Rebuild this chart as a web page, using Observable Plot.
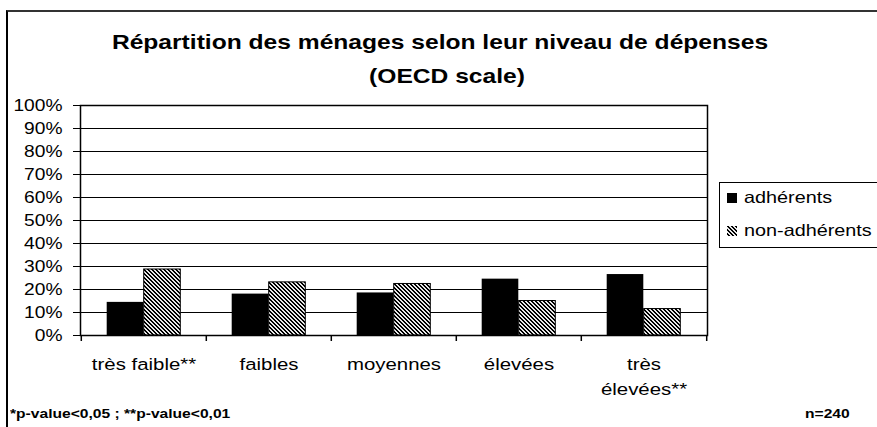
<!DOCTYPE html>
<html>
<head>
<meta charset="utf-8">
<script src="https://cdn.jsdelivr.net/npm/d3@7"></script>
<script src="https://cdn.jsdelivr.net/npm/@observablehq/plot@0.6"></script>
<style>
  html, body { margin: 0; padding: 0; background: #fff; }
  body { width: 877px; height: 427px; overflow: hidden; position: relative; font-family: "Liberation Sans", Arial, sans-serif; color: #000; }
  .abs { position: absolute; white-space: nowrap; }
  .frameLines { position: absolute; left: 6px; top: 10px; width: 900px; height: 440px; border-top: 2px solid #333; border-left: 2px solid #000; }
  .title { font-weight: bold; font-size: 20.5px; transform: scaleX(1.2); transform-origin: center; }
  .foot { font-weight: bold; font-size: 13px; transform: scaleX(1.2); transform-origin: left; }
  .legend { position: absolute; left: 719px; top: 182px; width: 165px; height: 64px; border: 1px solid #000; background: #fff; }
  .legend .item { position: absolute; left: 7px; font-size: 16.5px; display: flex; align-items: center; }
  .legend .txt { display: inline-block; transform: scaleX(1.2); transform-origin: left; margin-left: 7px; }
  #chart { position: absolute; left: 0; top: 90px; }
</style>
</head>
<body>
<div class="frameLines"></div>
<div class="abs title" id="t1" style="left:0; width:880px; text-align:center; top:30px;">Répartition des ménages selon leur niveau de dépenses</div>
<div class="abs title" id="t2" style="left:0; width:894px; text-align:center; top:64px;">(OECD scale)</div>
<div id="chart"></div>
<div class="legend">
  <div class="item" style="top:5px;"><svg width="10" height="10"><rect width="10" height="10" fill="#000"/></svg><span class="txt">adhérents</span></div>
  <div class="item" style="top:38px;"><svg width="10" height="10"><defs><pattern id="hatchL" patternUnits="userSpaceOnUse" width="4" height="4"><rect width="4" height="4" fill="#e8e8e8"/><rect x="0" y="0" width="1" height="1"/><rect x="1" y="0" width="1" height="1"/><rect x="1" y="1" width="1" height="1"/><rect x="2" y="1" width="1" height="1"/><rect x="2" y="2" width="1" height="1"/><rect x="3" y="2" width="1" height="1"/><rect x="3" y="3" width="1" height="1"/><rect x="0" y="3" width="1" height="1"/></pattern></defs><rect width="10" height="10" fill="url(#hatchL)"/></svg><span class="txt">non-adhérents</span></div>
</div>
<div class="abs foot" style="left:10px; top:406px;">*p-value&lt;0,05 ; **p-value&lt;0,01</div>
<div class="abs foot" style="left:805px; top:406px;">n=240</div>
<script>
const categories = ["très faible**", "faibles", "moyennes", "élevées", "très élevées**"];
const categoryLabels = ["très faible**", "faibles", "moyennes", "élevées", "très\nélevées**"];
const series = ["adhérents", "non-adhérents"];
const adherents = [14.4, 18.0, 18.5, 24.5, 26.5];
const nonAdherents = [28.7, 23.1, 22.4, 15.0, 11.5];
const yTicks = [0, 10, 20, 30, 40, 50, 60, 70, 80, 90, 100];
const yTickLabels = ["0%", "10%", "20%", "30%", "40%", "50%", "60%", "70%", "80%", "90%", "100%"];

const rowsA = categories.map((c, i) => ({category: c, series: series[0], value: adherents[i]}));
const rowsN = categories.map((c, i) => ({category: c, series: series[1], value: nonAdherents[i]}));
const labelOf = new Map(categories.map((c, i) => [c, categoryLabels[i]]));
const tickLabelOf = new Map(yTicks.map((t, i) => [t, yTickLabels[i]]));

const W = 877, H = 337, mL = 80, mR = 170, mT = 15, mB = 92;
const bw = (W - mL - mR) / categories.length;
const barW = 37;
const outer = (bw - 2 * barW) / 2;

const chart = Plot.plot({
  width: W, height: H,
  marginLeft: mL, marginRight: mR, marginTop: mT, marginBottom: mB,
  style: {fontFamily: "'Liberation Sans', Arial, sans-serif", color: "#000", background: "transparent", overflow: "visible"},
  x: {domain: categories, padding: 0},
  y: {domain: [0, 100]},
  marks: [
    Plot.gridY(yTicks, {stroke: "#000", strokeOpacity: 1, strokeWidth: 1}),
    Plot.barY(rowsA, {x: "category", y: "value", fill: "#000", insetLeft: outer, insetRight: outer + barW}),
    Plot.barY(rowsN, {x: "category", y: "value", fill: "url(#hatch)", stroke: "#000", strokeWidth: 1, insetLeft: outer + barW, insetRight: outer}),
    Plot.frame({stroke: "#000", strokeWidth: 1.5}),
    Plot.ruleX(categories, {x: d => d, y1: 0, y2: 0, insetBottom: -6, dx: -bw / 2, stroke: "#000", strokeWidth: 1.5}),
    Plot.ruleX(categories.slice(-1), {x: d => d, y1: 0, y2: 0, insetBottom: -6, dx: bw / 2, stroke: "#000", strokeWidth: 1.5}),
    Plot.axisY(yTicks, {tickSize: 7, tickPadding: 11, fontSize: 16, tickFormat: d => tickLabelOf.get(d), label: null, stroke: "#000"}),
    Plot.axisX({tickSize: 0, tickPadding: 17, fontSize: 17, lineHeight: 1.45, tickFormat: d => labelOf.get(d), label: null})
  ]
});

// hatch pattern (pixel-aligned diagonal stripes)
const defs = d3.select(chart).insert("defs", ":first-child");
const pat = defs.append("pattern").attr("id", "hatch").attr("patternUnits", "userSpaceOnUse").attr("width", 4).attr("height", 4);
pat.append("rect").attr("width", 4).attr("height", 4).attr("fill", "#e8e8e8");
for (let y = 0; y < 4; y++) {
  for (const k of [0, 1]) {
    pat.append("rect").attr("x", (y + k) % 4).attr("y", y).attr("width", 1).attr("height", 1).attr("fill", "#000");
  }
}

// widen text horizontally to match reference glyph proportions
chart.querySelectorAll('g[aria-label$="tick label"] text').forEach(t => {
  const tr = t.getAttribute("transform") || "";
  t.setAttribute("transform", tr + " scale(1.2,1)");
});

document.getElementById("chart").appendChild(chart);
</script>
</body>
</html>
